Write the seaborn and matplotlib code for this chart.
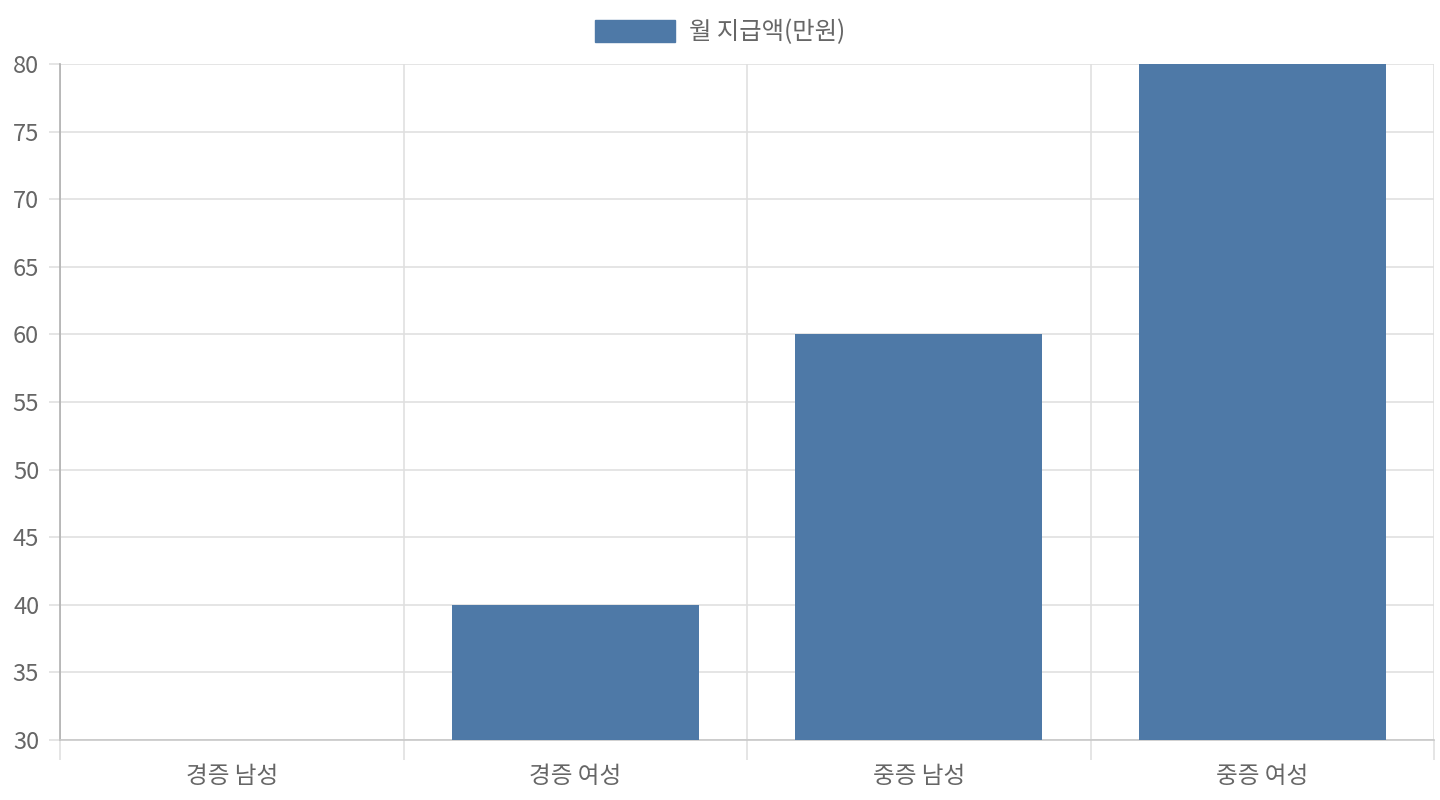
import matplotlib
matplotlib.use("Agg")
import matplotlib.pyplot as plt
import seaborn as sns
import pandas as pd
from matplotlib.patches import Patch

categories = ["경증 남성", "경증 여성", "중증 남성", "중증 여성"]
values = [30, 40, 60, 80]
series_name = "월 지급액(만원)"
y_ticks = [30, 35, 40, 45, 50, 55, 60, 65, 70, 75, 80]

sns.set_theme(style="white")
plt.rcParams['font.family'] = ['Noto Sans CJK KR', 'DejaVu Sans']

BAR = "#4e79a7"
GRID = "#e0e0e0"
TEXT = "#666666"

df = pd.DataFrame({"category": categories, "value": values})

fig = plt.figure(figsize=(14.4, 8), dpi=100)
ax = fig.add_axes([60/1440, 1-740/800, 1374/1440, 676/800])

sns.barplot(data=df, x="category", y="value", color=BAR, width=0.72,
            saturation=1, ax=ax, zorder=3, linewidth=0, edgecolor=BAR)

ax.set_ylim(30, 80)
ax.set_xlim(-0.5, 3.5)
ax.set_yticks(y_ticks)
ax.set_xlabel("")
ax.set_ylabel("")

ax.set_xticks([-0.5, 0.5, 1.5, 2.5, 3.5], minor=True)
ax.grid(True, axis="y", which="major", color=GRID, linewidth=1.2, zorder=0)
ax.grid(True, axis="x", which="minor", color=GRID, linewidth=1.2, zorder=0)
ax.grid(False, axis="x", which="major")
ax.tick_params(axis="x", which="both", bottom=True)
ax.tick_params(axis="y", which="both", left=True)
ax.tick_params(axis="x", which="major", length=0, pad=18, labelsize=17, labelcolor=TEXT)
ax.tick_params(axis="x", which="minor", length=14.4, width=1.2, color=GRID)
ax.tick_params(axis="y", which="major", length=8, width=1.2, color=GRID, pad=7,
               labelsize=17, labelcolor=TEXT)

for s in ["top", "right"]:
    ax.spines[s].set_visible(False)
ax.spines["left"].set_color("#b0b0b0")
ax.spines["bottom"].set_color("#c8c8c8")
ax.spines["left"].set_linewidth(1.2)
ax.spines["bottom"].set_linewidth(1.2)

handle = Patch(facecolor=BAR, edgecolor=BAR)
fig.legend([handle], [series_name], loc="center", bbox_to_anchor=(0.5, 1-32/800),
           frameon=False, fontsize=17.5, labelcolor=TEXT, handlelength=3.3,
           handleheight=1.0, handletextpad=0.55)

fig.savefig("out.png", dpi=100, facecolor="white")
